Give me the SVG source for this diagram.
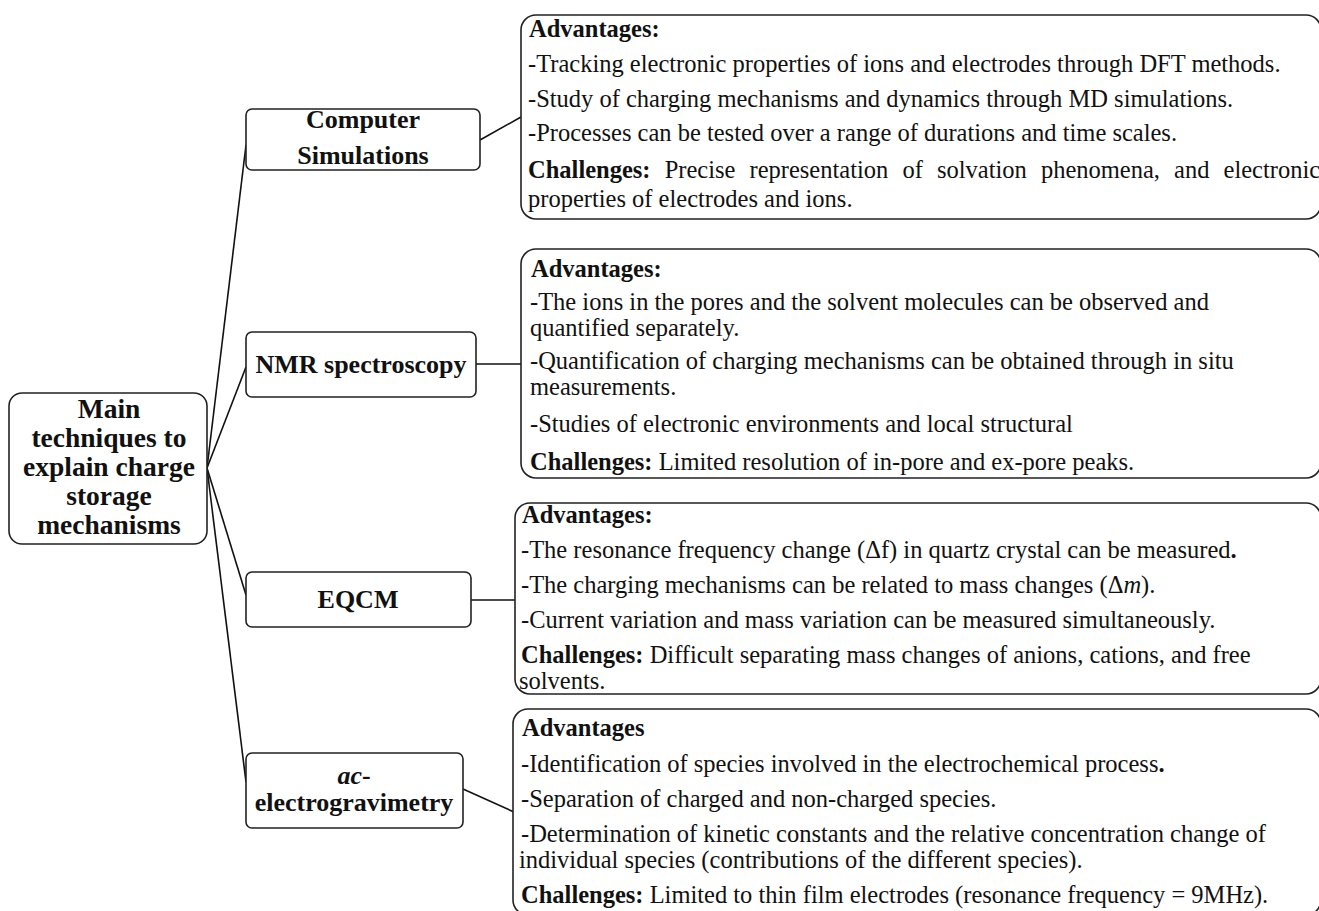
<svg xmlns="http://www.w3.org/2000/svg" width="1319" height="911" viewBox="0 0 1319 911">
<style>
.box{fill:#fff;stroke:#222;stroke-width:1.6}
.conn line{stroke:#111;stroke-width:1.6}
.nt{font-family:"Liberation Serif","Times New Roman",serif;font-weight:bold;font-size:26px;fill:#111;text-anchor:middle}
.mt{font-family:"Liberation Serif","Times New Roman",serif;font-weight:bold;font-size:27.5px;fill:#111;text-anchor:middle}
.dt{font-family:"Liberation Serif","Times New Roman",serif;font-size:24.5px;fill:#111}
.b{font-weight:bold}
.i{font-style:italic}
</style>
<rect width="1319" height="911" fill="#fff"/>
<g id="connectors" class="conn">
<line x1="207" y1="468" x2="246" y2="145"/>
<line x1="207" y1="468" x2="246" y2="367"/>
<line x1="207" y1="468" x2="246" y2="595"/>
<line x1="207" y1="468" x2="246" y2="782"/>
<line x1="480" y1="140" x2="521" y2="117"/>
<line x1="476" y1="364" x2="521" y2="364"/>
<line x1="471" y1="600" x2="515" y2="600"/>
<line x1="463" y1="789" x2="514" y2="812"/>
</g>
<g id="main">
<rect class="box" x="9" y="393" width="198" height="151" rx="13"/>
<text class="mt" x="109" y="418">Main</text>
<text class="mt" x="109" y="447">techniques to</text>
<text class="mt" x="109" y="476">explain charge</text>
<text class="mt" x="109" y="505">storage</text>
<text class="mt" x="109" y="534">mechanisms</text>
</g>
<g id="computer-simulations">
<rect class="box" x="246" y="109" width="234" height="61" rx="6"/>
<text class="nt" x="363" y="128">Computer</text>
<text class="nt" x="363" y="164">Simulations</text>
</g>
<g id="nmr">
<rect class="box" x="246" y="332" width="230" height="65" rx="6"/>
<text class="nt" x="361" y="373">NMR spectroscopy</text>
</g>
<g id="eqcm">
<rect class="box" x="246" y="572" width="225" height="55" rx="6"/>
<text class="nt" x="358" y="608">EQCM</text>
</g>
<g id="ac-electrogravimetry">
<rect class="box" x="246" y="753" width="217" height="75" rx="6"/>
<text class="nt" x="354" y="784"><tspan class="i">ac</tspan>-</text>
<text class="nt" x="354" y="811">electrogravimetry</text>
</g>
<g id="details-computer">
<rect class="box" x="521" y="15" width="800" height="204" rx="15"/>
<text class="dt b" x="529" y="37">Advantages:</text>
<text class="dt" x="528" y="72">-Tracking electronic properties of ions and electrodes through DFT methods.</text>
<text class="dt" x="528" y="107">-Study of charging mechanisms and dynamics through MD simulations.</text>
<text class="dt" x="528" y="141">-Processes can be tested over a range of durations and time scales.</text>
<text class="dt" x="528" y="178" word-spacing="8"><tspan class="b">Challenges:</tspan> Precise representation of solvation phenomena, and electronic</text>
<text class="dt" x="528" y="207">properties of electrodes and ions.</text>
</g>
<g id="details-nmr">
<rect class="box" x="521" y="249" width="800" height="229" rx="15"/>
<text class="dt b" x="531" y="277">Advantages:</text>
<text class="dt" x="530" y="310">-The ions in the pores and the solvent molecules can be observed and</text>
<text class="dt" x="530" y="336">quantified separately.</text>
<text class="dt" x="530" y="369">-Quantification of charging mechanisms can be obtained through in situ</text>
<text class="dt" x="530" y="395">measurements.</text>
<text class="dt" x="530" y="432">-Studies of electronic environments and local structural</text>
<text class="dt" x="530" y="470"><tspan class="b">Challenges:</tspan>  Limited resolution of in-pore and ex-pore peaks.</text>
</g>
<g id="details-eqcm">
<rect class="box" x="515" y="503" width="806" height="191" rx="15"/>
<text class="dt b" x="522" y="523">Advantages:</text>
<text class="dt" x="521" y="558">-The resonance frequency change (Δf)  in quartz crystal can be measured<tspan class="b">.</tspan></text>
<text class="dt" x="521" y="593">-The charging mechanisms can be related to mass changes (Δ<tspan class="i">m</tspan>).</text>
<text class="dt" x="521" y="628">-Current variation and mass variation can be measured simultaneously.</text>
<text class="dt" x="521" y="663"><tspan class="b">Challenges:</tspan>  Difficult separating mass changes of anions, cations, and free</text>
<text class="dt" x="519" y="689">solvents.</text>
</g>
<g id="details-ac">
<rect class="box" x="513" y="709" width="808" height="206" rx="15"/>
<text class="dt b" x="522" y="736">Advantages</text>
<text class="dt" x="521" y="772">-Identification of species involved in the electrochemical process<tspan class="b">.</tspan></text>
<text class="dt" x="521" y="807">-Separation of charged and non-charged species.</text>
<text class="dt" x="521" y="842">-Determination of kinetic constants and the relative concentration change of</text>
<text class="dt" x="519" y="868">individual species (contributions of the different species).</text>
<text class="dt" x="521" y="903"><tspan class="b">Challenges:</tspan>  Limited to thin film electrodes (resonance frequency = 9MHz).</text>
</g>
</svg>
